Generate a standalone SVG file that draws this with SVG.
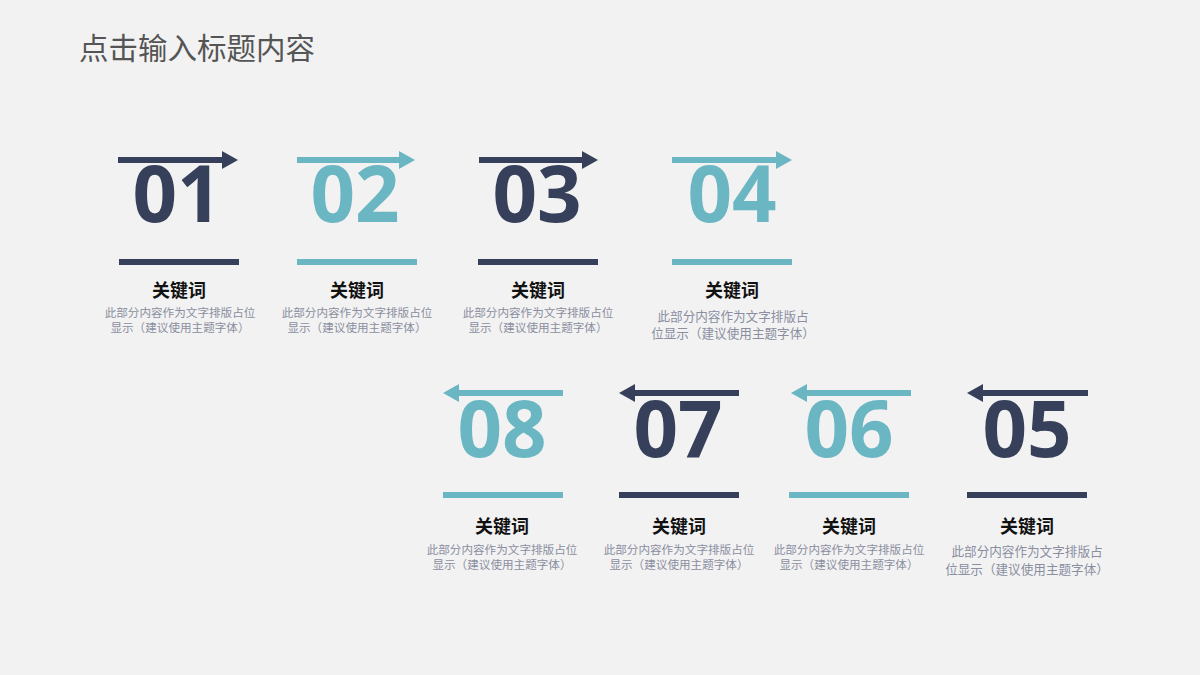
<svg xmlns="http://www.w3.org/2000/svg" width="1200" height="675" viewBox="0 0 1200 675">
<style>
.num{font-family:"Open Sans","Liberation Sans",sans-serif;font-weight:bold;font-size:78px;text-anchor:middle}
.navy{fill:#37405a}
.teal{fill:#6bb6c3}
.kw{font-family:"Noto Sans CJK SC","Noto Sans",sans-serif;font-weight:bold;font-size:18px;fill:#111;text-anchor:middle}
.desc{font-family:"Noto Sans CJK SC","Noto Sans",sans-serif;font-size:11.6px;fill:#8a8ea0;text-anchor:middle}
.desc2{font-family:"Noto Sans CJK SC","Noto Sans",sans-serif;font-size:12.6px;fill:#8a8ea0;text-anchor:middle}
.title{font-family:"Noto Sans CJK SC","Noto Sans",sans-serif;font-size:29.5px;fill:#555555}
</style>
<rect width="1200" height="675" fill="#f2f2f2"/>
<text class="title" x="79" y="59">点击输入标题内容</text>
<g id="connectors">
<g class="navy"><rect x="118" y="157" width="108" height="6"/><polygon points="238,160 222,151 222,169"/></g>
<g class="teal"><rect x="297" y="157" width="106" height="6"/><polygon points="415,160 399,151 399,169"/></g>
<g class="navy"><rect x="479" y="157" width="107" height="6"/><polygon points="598,160 582,151 582,169"/></g>
<g class="teal"><rect x="672" y="157" width="108" height="6"/><polygon points="792,160 776,151 776,169"/></g>
<g class="teal"><rect x="455" y="390" width="108" height="6"/><polygon points="443,393 459,384 459,402"/></g>
<g class="navy"><rect x="631" y="390" width="108" height="6"/><polygon points="619,393 635,384 635,402"/></g>
<g class="teal"><rect x="803" y="390" width="108" height="6"/><polygon points="791,393 807,384 807,402"/></g>
<g class="navy"><rect x="979" y="390" width="109" height="6"/><polygon points="967,393 983,384 983,402"/></g>
</g>
<g id="n01">
<text class="num navy" x="177" y="222">01</text>
<rect class="navy" x="119" y="259" width="120" height="6"/>
<text class="kw" x="179" y="297">关键词</text>
<text class="desc" x="180" y="317">此部分内容作为文字排版占位</text>
<text class="desc" x="180" y="332">显示（建议使用主题字体）</text>
</g>
<g id="n02">
<text class="num teal" x="355" y="222">02</text>
<rect class="teal" x="297" y="259" width="120" height="6"/>
<text class="kw" x="357" y="297">关键词</text>
<text class="desc" x="357" y="317">此部分内容作为文字排版占位</text>
<text class="desc" x="357" y="332">显示（建议使用主题字体）</text>
</g>
<g id="n03">
<text class="num navy" x="537" y="222">03</text>
<rect class="navy" x="478" y="259" width="120" height="6"/>
<text class="kw" x="538" y="297">关键词</text>
<text class="desc" x="538" y="317">此部分内容作为文字排版占位</text>
<text class="desc" x="538" y="332">显示（建议使用主题字体）</text>
</g>
<g id="n04">
<text class="num teal" x="732" y="222">04</text>
<rect class="teal" x="672" y="259" width="120" height="6"/>
<text class="kw" x="732" y="297">关键词</text>
<text class="desc2" x="733" y="321">此部分内容作为文字排版占</text>
<text class="desc2" x="733" y="338">位显示（建议使用主题字体）</text>
</g>
<g id="n08">
<text class="num teal" x="502" y="457">08</text>
<rect class="teal" x="443" y="492" width="120" height="6"/>
<text class="kw" x="502" y="533">关键词</text>
<text class="desc" x="502" y="554">此部分内容作为文字排版占位</text>
<text class="desc" x="502" y="569">显示（建议使用主题字体）</text>
</g>
<g id="n07">
<text class="num navy" x="678" y="457">07</text>
<rect class="navy" x="619" y="492" width="120" height="6"/>
<text class="kw" x="679" y="533">关键词</text>
<text class="desc" x="679" y="554">此部分内容作为文字排版占位</text>
<text class="desc" x="679" y="569">显示（建议使用主题字体）</text>
</g>
<g id="n06">
<text class="num teal" x="849" y="457">06</text>
<rect class="teal" x="789" y="492" width="120" height="6"/>
<text class="kw" x="849" y="533">关键词</text>
<text class="desc" x="849" y="554">此部分内容作为文字排版占位</text>
<text class="desc" x="849" y="569">显示（建议使用主题字体）</text>
</g>
<g id="n05">
<text class="num navy" x="1027" y="457">05</text>
<rect class="navy" x="967" y="492" width="120" height="6"/>
<text class="kw" x="1027" y="533">关键词</text>
<text class="desc2" x="1027" y="556">此部分内容作为文字排版占</text>
<text class="desc2" x="1027" y="574">位显示（建议使用主题字体）</text>
</g>
</svg>
